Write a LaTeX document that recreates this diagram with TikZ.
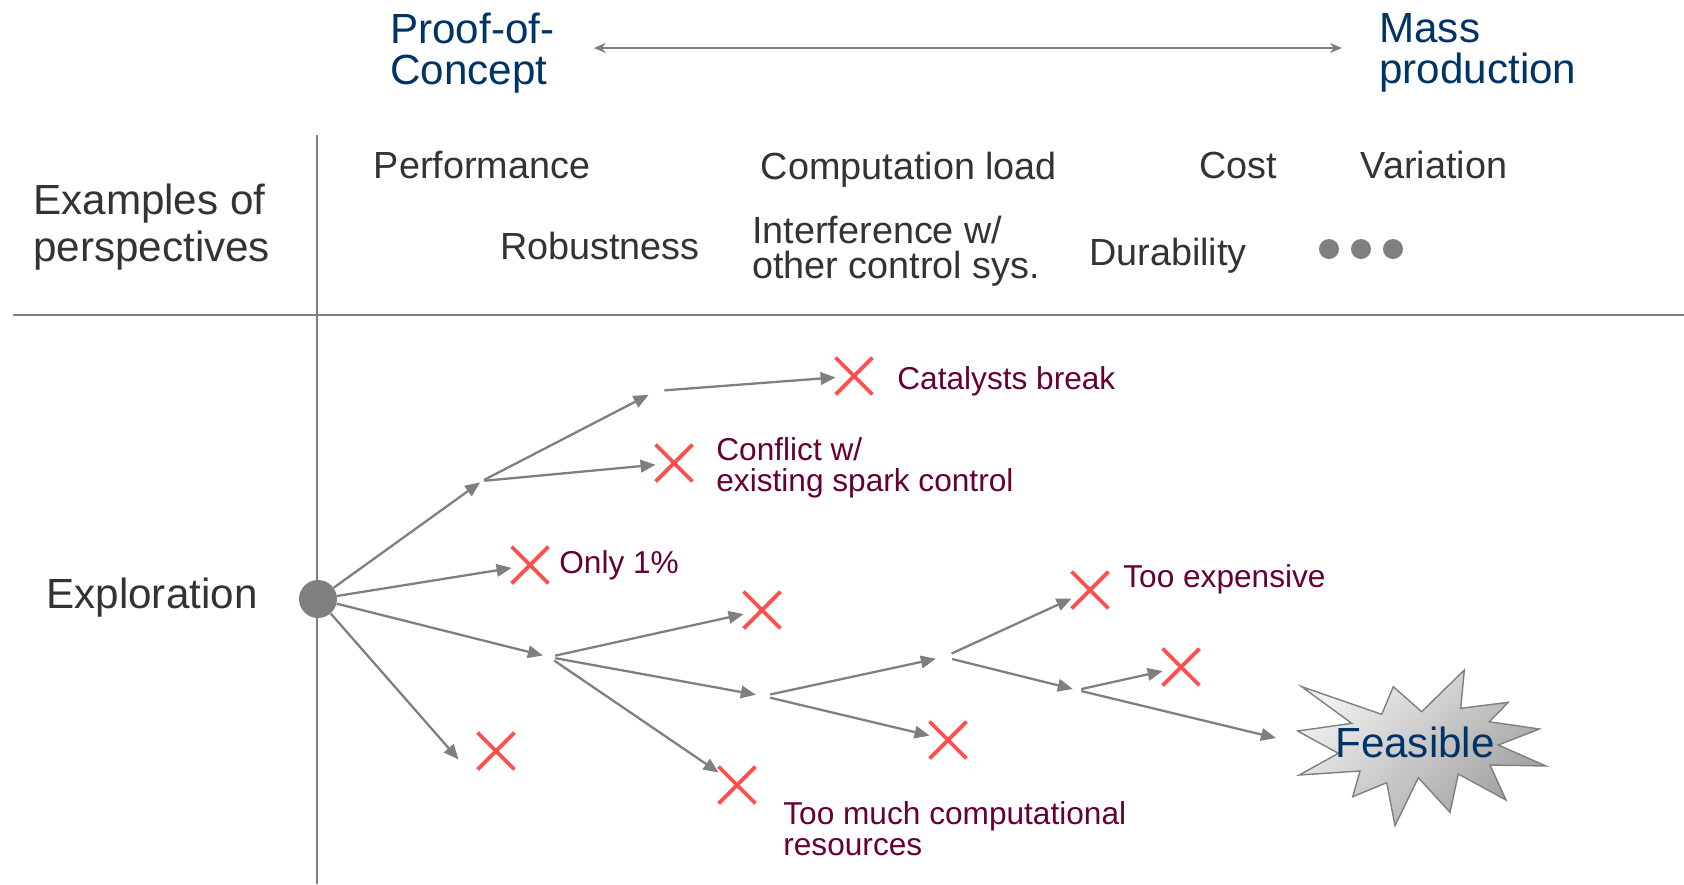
\documentclass[tikz,border=0pt]{standalone}
\usepackage{fontspec}
\setmainfont{Liberation Sans}
\usetikzlibrary{arrows.meta,shapes.misc}
\definecolor{titleblue}{RGB}{0,51,102}
\definecolor{textgray}{RGB}{51,51,51}
\definecolor{failred}{RGB}{102,0,51}
\definecolor{crossred}{RGB}{255,80,80}
\definecolor{linegray}{RGB}{127,127,127}

\begin{document}
\begin{tikzpicture}[x=0.2mm, y=-0.2mm,
    every node/.style={inner sep=0pt},
    title/.style={text=titleblue, font=\fontsize{24}{23}\selectfont, align=left, anchor=west},
    persp/.style={text=textgray, font=\fontsize{21.5}{20}\selectfont, align=left},
    head/.style={text=textgray, font=\fontsize{24}{27}\selectfont, align=left},
    fail/.style={text=failred, font=\fontsize{18}{17.5}\selectfont, align=left, anchor=west},
    nogo/.style={cross out, draw=crossred, line width=2.2pt, minimum size=6.6mm},
    junc/.style={circle, minimum size=#1},
    arr/.style={line width=1.3pt, linegray, -{Triangle[length=3mm,width=2.5mm]}}]
    \useasboundingbox (0,0) rectangle (1684,884);
    % scale from proof-of-concept to mass production
    \node[title] (poc) at (390,53) {Proof-of-\\Concept};
    \node[title] (mass) at (1379,53) {Mass\\production};
    \draw[line width=1.2pt, linegray, {Stealth[length=2.4mm,width=2mm]}-{Stealth[length=2.4mm,width=2mm]},
      shorten <=7.8mm, shorten >=7.4mm] ([yshift=1mm]poc.east) -- ([yshift=1mm]mass.west);
    % table lines
    \draw[line width=1pt, linegray] (317,135) -- (317,884);
    \draw[line width=1pt, linegray] (13,315) -- (1684,315);
    \node[head, anchor=west] (persph) at (33,227) {Examples of\\perspectives};
    \node[head] (explh) at (152,598) {Exploration};
    % perspectives
    \node[persp] (perf) at (482,165) {Performance};
    \node[persp] (comp) at (909,170) {Computation load};
    \node[persp] (cost) at (1238,165) {Cost};
    \node[persp] (vari) at (1434,165) {Variation};
    \node[persp] (robu) at (600,246) {Robustness};
    \node[persp, anchor=west] (intf) at (752,251) {Interference w/\\other control sys.};
    \node[persp] (dura) at (1168,256) {Durability};
    \foreach \i/\x in {1/1329,2/1361,3/1393}
      \node[circle, fill=linegray, minimum size=4mm] (dot\i) at (\x,249) {};
    % exploration tree
    \node[circle, fill=linegray, minimum size=7.6mm] (root) at (318,599) {};
    \node[junc=0.8mm] (a1) at (482,481) {};
    \node[junc=3.2mm] (a2) at (656,391) {};
    \node[junc=2.4mm] (b) at (549,657) {};
    \node[junc=2.8mm] (c) at (763,696) {};
    \node[junc=3.2mm] (d) at (944,657) {};
    \node[junc=1.6mm] (e) at (1077,690) {};
    \node[nogo] (xcat) at (854,376) {};
    \node[nogo] (xconf) at (674,463) {};
    \node[nogo] (xonly) at (530,565) {};
    \node[nogo] (xlow) at (496,751) {};
    \node[nogo] (xb1) at (762,610) {};
    \node[nogo] (xb2) at (737,785) {};
    \node[nogo] (xc) at (948,740) {};
    \node[nogo] (xexp) at (1090,590) {};
    \node[nogo] (xe) at (1181,667) {};
    \node[fail] (lcat) at (897,381) {Catalysts break};
    \node[fail] (lconf) at (716,468) {Conflict w/\\existing spark control};
    \node[fail] (lonly) at (559,565) {Only 1\%};
    \node[fail] (lexp) at (1123,579) {Too expensive};
    \node[fail] (lres) at (783,829) {Too much computational\\resources};
    \coordinate (feasin) at (1276,738);
    \draw[arr] (root) -- (a1);
    \draw[arr] (a1) -- (a2);
    \draw[arr] (a2) -- (xcat);
    \draw[arr] (a1) -- (xconf);
    \draw[arr] (root) -- (xonly);
    \draw[arr] (root) -- ([shift={(-19,-10)}]xlow.south west);
    \draw[arr] (root) -- (b);
    \draw[arr] (b) -- (xb1);
    \draw[arr] (b) -- (c);
    \draw[arr] (b) -- (xb2);
    \draw[arr] (c) -- (d);
    \draw[arr] (c) -- (xc);
    \draw[arr] (d) -- (xexp);
    \draw[arr] (d) -- (e);
    \draw[arr] (e) -- (xe);
    \draw[arr] (e) -- (feasin);
    % feasible burst
    \draw[linegray, line width=0.8pt, top color=gray!12, bottom color=gray!75, shading angle=45]
      (1301.7,686.7) -- (1381.7,714.3) -- (1393.3,686.7) -- (1421.7,711.7) -- (1464.3,670)
      -- (1460.7,708.3) -- (1508.3,702.3) -- (1489.3,721.7) -- (1539.3,729) -- (1498.3,745)
      -- (1546,766) -- (1490,765) -- (1506,800) -- (1458.3,774) -- (1450,812.3)
      -- (1418.3,777.7) -- (1395,825.7) -- (1386.7,782.7) -- (1352.7,796.7) -- (1360,771)
      -- (1299.3,775) -- (1338.3,753.3) -- (1297.7,731) -- (1351.7,723.3) -- cycle;
    \node[text=titleblue, font=\fontsize{24}{24}\selectfont] (feas) at (1415,742) {Feasible};
\end{tikzpicture}
\end{document}
